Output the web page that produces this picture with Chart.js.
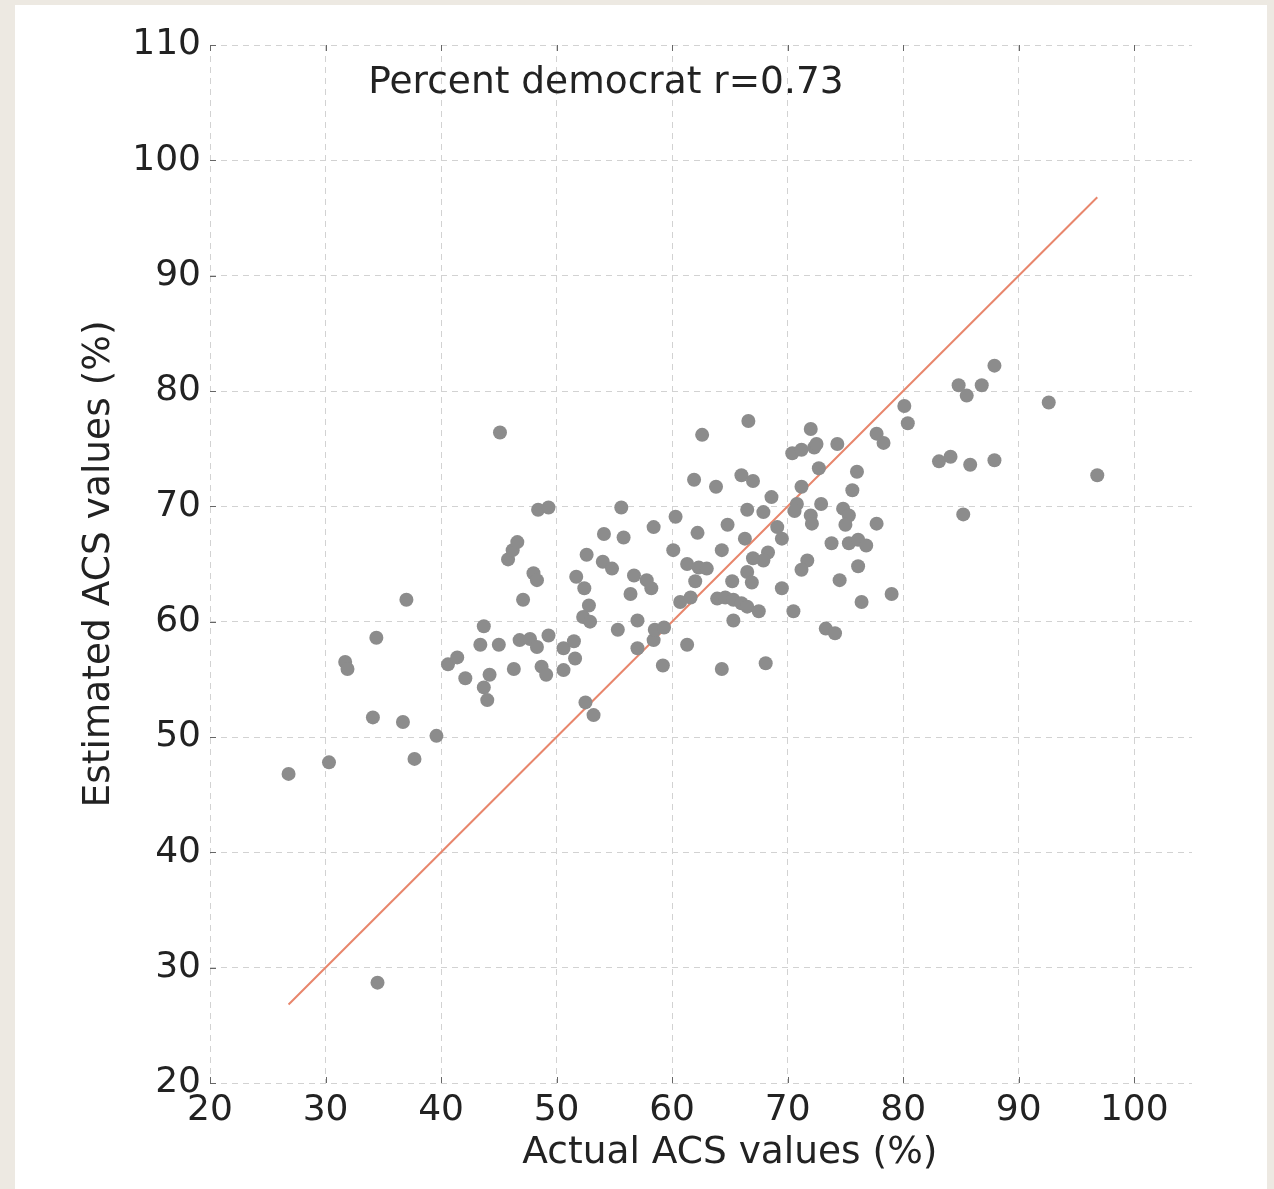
<!DOCTYPE html>
<html>
<head>
<meta charset="utf-8">
<script src="https://cdn.jsdelivr.net/npm/chart.js@4.4.1/dist/chart.umd.min.js"></script>
<style>
  html, body { margin: 0; padding: 0; background: #ede9e2; width: 1274px; height: 1189px; overflow: hidden; }
  #panel { position: absolute; left: 15px; top: 5px; width: 1252px; height: 1184px; background: #ffffff; }
  canvas { display: block; }
</style>
</head>
<body>
<div id="panel"><canvas id="c" width="1252" height="1184"></canvas></div>
<script>
// Actual ACS values (%) – x
const actual = [
  26.8, 30.3, 31.7, 31.9, 34.4, 37.0, 34.1, 36.7, 39.6, 37.7,
  34.5, 40.6, 41.4, 42.1, 44.2, 43.7, 44.0, 43.4, 43.7, 45.0,
  45.1, 46.3, 46.8, 47.7, 48.3, 47.1, 48.0, 48.3, 45.8, 46.2,
  46.6, 48.4, 49.3, 49.3, 48.7, 49.1, 50.6, 51.5, 51.6, 50.6,
  52.5, 53.2, 51.7, 52.4, 52.6, 52.8, 52.3, 52.9, 54.1, 54.0,
  54.8, 55.6, 55.8, 55.3, 56.7, 57.8, 58.2, 56.4, 57.0, 57.0,
  58.4, 58.5, 59.3, 59.2, 58.4, 60.3, 60.1, 61.3, 62.3, 63.0,
  62.0, 60.7, 61.6, 61.3, 61.9, 62.6, 63.8, 62.2, 64.8, 64.3,
  64.3, 65.2, 66.5, 66.9, 63.9, 64.6, 65.3, 66.0, 66.5, 65.3,
  67.5, 66.3, 66.6, 66.0, 67.0, 66.5, 67.9, 68.6, 68.3, 67.9,
  67.0, 68.1, 69.1, 69.5, 69.5, 70.5, 70.4, 71.2, 72.3, 72.5,
  72.0, 74.3, 72.7, 71.2, 70.8, 70.6, 72.9, 72.0, 72.1, 71.7,
  71.2, 73.8, 74.5, 73.3, 74.1, 74.8, 75.3, 75.0, 75.3, 76.1,
  76.8, 76.0, 75.6, 76.1, 76.4, 77.7, 77.7, 78.3, 79.0, 80.1,
  80.4, 83.1, 84.1, 85.8, 87.9, 85.2, 84.8, 85.5, 86.8, 87.9,
  92.6, 96.8
];
// Estimated ACS values (%) – y
const estimated = [
  46.8, 47.8, 56.5, 55.9, 58.6, 61.9, 51.7, 51.3, 50.1, 48.1,
  28.7, 56.3, 56.9, 55.1, 55.4, 54.3, 53.2, 58.0, 59.6, 58.0,
  76.4, 55.9, 58.4, 58.5, 57.8, 61.9, 64.2, 63.6, 65.4, 66.2,
  66.9, 69.7, 69.9, 58.8, 56.1, 55.4, 57.7, 58.3, 56.8, 55.8,
  53.0, 51.9, 63.9, 62.9, 65.8, 61.4, 60.4, 60.0, 67.6, 65.2,
  64.6, 69.9, 67.3, 59.3, 64.0, 63.6, 62.9, 62.4, 60.1, 57.7,
  58.4, 59.3, 59.5, 56.2, 68.2, 69.1, 66.2, 65.0, 64.7, 64.6,
  63.5, 61.7, 62.1, 58.0, 72.3, 76.2, 71.7, 67.7, 68.4, 66.2,
  55.9, 63.5, 64.3, 63.4, 62.0, 62.1, 61.9, 61.6, 61.3, 60.1,
  60.9, 67.2, 77.4, 72.7, 72.2, 69.7, 69.5, 70.8, 66.0, 65.3,
  65.5, 56.4, 68.2, 67.2, 62.9, 60.9, 74.6, 74.9, 75.1, 75.4,
  76.7, 75.4, 73.3, 71.7, 70.2, 69.6, 70.2, 69.2, 68.5, 65.3,
  64.5, 66.8, 63.6, 59.4, 59.0, 69.8, 69.2, 68.4, 66.8, 67.1,
  66.6, 73.0, 71.4, 64.8, 61.7, 68.5, 76.3, 75.5, 62.4, 78.7,
  77.2, 73.9, 74.3, 73.6, 74.0, 69.3, 80.5, 79.6, 80.5, 82.2,
  79.0, 72.7
];
const xTickValues = [20, 30, 40, 50, 60, 70, 80, 90, 100];
const yTickValues = [20, 30, 40, 50, 60, 70, 80, 90, 100, 110];
const annotationText = 'Percent democrat r=0.73';
const xTitle = 'Actual ACS values (%)';
const yTitle = 'Estimated ACS values (%)';

const points = actual.map((v, i) => ({ x: v, y: estimated[i] }));
const lo = Math.min(...actual), hi = Math.max(...actual);
const identity = [{ x: lo, y: lo }, { x: hi, y: hi }];

const FONT = 'DejaVu Sans';
const TXT = '#222222';

const extras = {
  id: 'extras',
  afterDatasetsDraw(chart) {
    const { ctx, chartArea, scales } = chart;
    ctx.save();
    ctx.strokeStyle = '#666';
    ctx.lineWidth = 1;
    xTickValues.forEach(v => {
      const px = Math.round(scales.x.getPixelForValue(v)) + 0.5;
      ctx.beginPath();
      ctx.moveTo(px, chartArea.bottom);
      ctx.lineTo(px, chartArea.bottom - 6);
      ctx.moveTo(px, chartArea.top);
      ctx.lineTo(px, chartArea.top + 6);
      ctx.stroke();
    });
    yTickValues.forEach(v => {
      const py = Math.round(scales.y.getPixelForValue(v)) + 0.5;
      ctx.beginPath();
      ctx.moveTo(chartArea.left, py);
      ctx.lineTo(chartArea.left + 6, py);
      ctx.stroke();
    });
    ctx.fillStyle = TXT;
    ctx.font = '37.5px "' + FONT + '"';
    ctx.textAlign = 'left';
    ctx.textBaseline = 'middle';
    ctx.fillText(annotationText, scales.x.getPixelForValue(33.7), scales.y.getPixelForValue(106.7));
    ctx.textAlign = 'center';
    ctx.fillText(xTitle, scales.x.getPixelForValue(65), chartArea.bottom + 70);
    ctx.restore();
  }
};

new Chart(document.getElementById('c'), {
  type: 'scatter',
  data: {
    datasets: [
      {
        type: 'scatter',
        data: points,
        backgroundColor: '#8c8c8c',
        borderWidth: 0,
        pointRadius: 7,
        pointHoverRadius: 7
      },
      {
        type: 'line',
        data: identity,
        borderColor: '#e8866c',
        borderWidth: 2,
        pointRadius: 0,
        fill: false,
        tension: 0
      }
    ]
  },
  options: {
    responsive: false,
    animation: false,
    devicePixelRatio: 1,
    layout: { padding: { top: 40, right: 75, left: 0, bottom: 0 } },
    plugins: { legend: { display: false }, tooltip: { enabled: false } },
    scales: {
      x: {
        type: 'linear',
        min: 20, max: 105,
        afterFit(s) { s.height = 106; },
        ticks: { stepSize: 10, includeBounds: false, color: TXT, font: { family: FONT, size: 36 }, padding: 6, maxRotation: 0, autoSkip: false },
        grid: { color: '#d2d2d2', lineWidth: 1, drawTicks: false },
        border: { display: false, dash: [6, 5] },
        title: { display: false }
      },
      y: {
        type: 'linear',
        min: 20, max: 110,
        afterFit(s) { s.width = 195; },
        ticks: { stepSize: 10, includeBounds: false, color: TXT, font: { family: FONT, size: 36 }, padding: 9, autoSkip: false },
        grid: { color: '#d2d2d2', lineWidth: 1, drawTicks: false },
        border: { display: false, dash: [6, 5] },
        title: { display: true, text: yTitle, color: TXT, font: { family: FONT, size: 37.5 }, padding: { top: 62, bottom: 0 } }
      }
    }
  },
  plugins: [extras]
});
</script>
</body>
</html>
